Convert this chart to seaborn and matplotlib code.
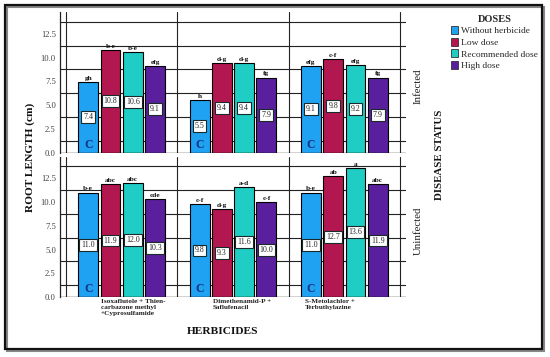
import numpy as np
import pandas as pd
import seaborn as sns
import matplotlib.pyplot as plt
from matplotlib.patches import Rectangle, Patch

# ---------------- data ----------------
herbicides = ["Isoxaflutole + Thien-\ncarbazone methyl\n+Cyprosulfamide",
              "Dimethenamid-P +\nSaflufenacil",
              "S-Metolachlor +\nTerbuthylazine"]
doses = ["Without herbicide", "Low dose", "Recommended dose", "High dose"]
statuses = ["Infected", "Uninfected"]

infected_vals = [[7.4, 10.8, 10.6, 9.1],
                 [5.5, 9.4, 9.4, 7.9],
                 [9.1, 9.8, 9.2, 7.9]]
infected_letters = [["gh", "b-e", "b-e", "efg"],
                    ["h", "d-g", "d-g", "fg"],
                    ["efg", "c-f", "efg", "fg"]]
uninfected_vals = [[11.0, 11.9, 12.0, 10.3],
                   [9.8, 9.3, 11.6, 10.0],
                   [11.0, 12.7, 13.6, 11.9]]
uninfected_letters = [["b-e", "abc", "abc", "cde"],
                      ["c-f", "d-g", "a-d", "c-f"],
                      ["b-e", "ab", "a", "abc"]]
control_mark = "C"
yticks = [0.0, 2.5, 5.0, 7.5, 10.0, 12.5]

colors = ["#1FA2F2", "#B3174F", "#1FCDC4", "#5A1F9C"]

# ---------------- build table ----------------
rows = []
for status, vals, lets in [("Infected", infected_vals, infected_letters),
                           ("Uninfected", uninfected_vals, uninfected_letters)]:
    for h, vrow, lrow in zip(herbicides, vals, lets):
        for d, v, l in zip(doses, vrow, lrow):
            rows.append(dict(status=status, herbicide=h, dose=d, length=v, letter=l))
df = pd.DataFrame(rows)

sns.set_theme(style="white")
plt.rcParams["font.family"] = ["Liberation Serif", "DejaVu Serif"]

W, H = 550, 357
fig = plt.figure(figsize=(W / 100, H / 100), dpi=100)

def fx(px):
    return px / W

def fy(py):
    return 1 - py / H

ax_left, ax_right = 60, 406
panels = [(12, 152.5), (156.5, 297)]
ylim_top = 14.8
xlim = (-0.554, 2.554)
label_offsets = [-0.186, -0.179, -0.353]

axes = []
for (ptop, pbot), status in zip(panels, statuses):
    ax = fig.add_axes([fx(ax_left), fy(pbot), fx(ax_right) - fx(ax_left), (pbot - ptop) / H])
    sub = df[df.status == status]
    sns.barplot(data=sub, x="herbicide", y="length", hue="dose", order=herbicides,
                hue_order=doses, palette=colors, saturation=1, edgecolor="black",
                linewidth=0.8, width=0.8, gap=0.11, errorbar=None, legend=False,
                ax=ax, zorder=3)
    ax.set_xlim(*xlim)
    ax.set_ylim(0, ylim_top)
    ax.set_xlabel("")
    ax.set_ylabel("")
    # grid lines: horizontal at midpoints, vertical group separators
    for yv in np.arange(1.25, ylim_top, 2.5):
        ax.axhline(yv, color="#222222", lw=0.8, zorder=1)
    for xv in [-0.5, 0.5, 1.5, 2.5]:
        ax.axvline(xv, color="#222222", lw=0.8, zorder=1)
    ax.axhline(0, color="#222222", lw=1.0, zorder=4)
    ax.set_yticks(yticks)
    ax.set_yticklabels([f"{t:.1f}" for t in yticks], fontsize=6.2, color="#444444")
    ax.tick_params(axis="y", length=0, pad=3)
    ax.set_xticks([])
    for s in ["top", "right", "bottom"]:
        ax.spines[s].set_visible(False)
    ax.spines["left"].set_color("#222222")
    ax.spines["left"].set_linewidth(0.9)

    # annotations
    for hi, container in enumerate(ax.containers):
        for gi, bar in enumerate(container):
            h = bar.get_height()
            xc = bar.get_x() + bar.get_width() / 2
            row = sub[(sub.herbicide == herbicides[gi]) & (sub.dose == doses[hi])].iloc[0]
            ax.text(xc, h + 0.12, row.letter, ha="center", va="bottom", fontsize=5.3,
                    fontweight="bold", color="#111111", zorder=6)
            ax.text(xc, h / 2, f"{h:.1f}", ha="center", va="center", fontsize=5.7,
                    color="#222222", zorder=6,
                    bbox=dict(boxstyle="square,pad=0.25", fc="white", ec="#1a2a2a", lw=0.8))
            if hi == 0:
                ax.text(xc, 0.2, control_mark, ha="center", va="bottom", fontsize=8.5,
                        fontweight="bold", color="#15307A", zorder=6)
    axes.append(ax)
    fig.text(fx(418), fy((ptop + pbot) / 2 + 4), status, rotation=90, ha="center",
             va="center", fontsize=7.8, color="#222222")

# x tick labels (under bottom panel)
axb = axes[1]
for i, name in enumerate(herbicides):
    axb.text(i + label_offsets[i], -0.012, name, transform=axb.get_xaxis_transform(),
             ha="left", va="top", fontsize=5.2, fontweight="bold", color="#222222",
             linespacing=1.3)

fig.text(fx(223), fy(332), "HERBICIDES", ha="center", va="center", fontsize=8.2,
         fontweight="bold", color="#111111")
fig.text(fx(30), fy(157), "ROOT LENGTH (cm)", rotation=90, ha="center", va="center",
         fontsize=8.2, fontweight="bold", color="#111111")
fig.text(fx(439), fy(155), "DISEASE STATUS", rotation=90, ha="center", va="center",
         fontsize=7.8, fontweight="bold", color="#111111")

# legend
handles = [Patch(facecolor=c, edgecolor="#333333", lw=0.6) for c in colors]
leg = fig.legend(handles, doses, loc="upper left", bbox_to_anchor=(fx(444), fy(8)),
                 frameon=False, fontsize=6.8, title="DOSES",
                 title_fontproperties=dict(weight="bold", size=7.5, family="Liberation Serif"),
                 handlelength=0.75, handleheight=0.9, handletextpad=0.4,
                 labelspacing=0.26, borderpad=0.2)

# outer frame with shadow
fig.patches.append(Rectangle((fx(7), fy(351)), fx(537), (351 - 7) / H, transform=fig.transFigure,
                             fill=False, ec="#888888", lw=1.5, zorder=0))
fig.patches.append(Rectangle((fx(5), fy(349)), fx(537), (349 - 5) / H, transform=fig.transFigure,
                             fill=False, ec="#111111", lw=1.6, zorder=1))

fig.savefig("out.png", dpi=100)
